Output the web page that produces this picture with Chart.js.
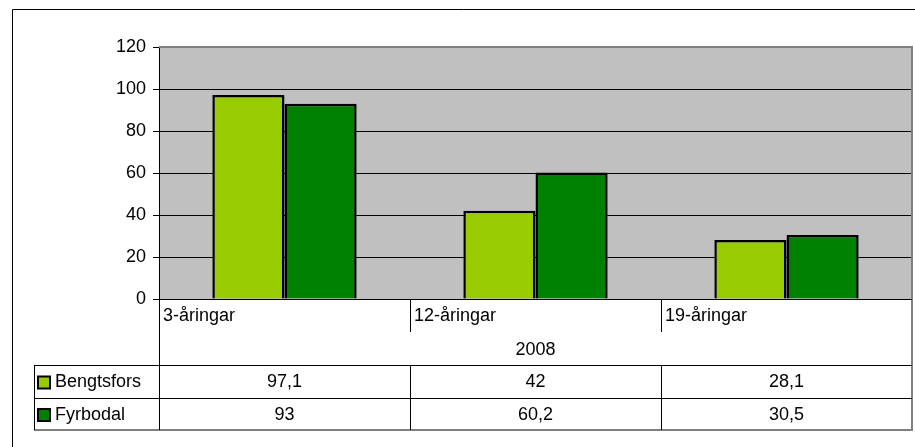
<!DOCTYPE html>
<html>
<head>
<meta charset="utf-8">
<script src="https://cdn.jsdelivr.net/npm/chart.js@4/dist/chart.umd.min.js"></script>
<style>
  html, body { margin: 0; padding: 0; background: #fff; }
  #wrap { width: 915px; height: 447px; position: relative; }
</style>
</head>
<body>
<div id="wrap"><canvas id="c" width="915" height="447"></canvas></div>
<script>
const categories = ['3-åringar', '12-åringar', '19-åringar'];
const groupLabel = '2008';
const seriesNames = ['Bengtsfors', 'Fyrbodal'];
const bengtsfors = [97.1, 42, 28.1];
const fyrbodal = [93, 60.2, 30.5];
const yMin = 0, yMax = 120, yStep = 20;

const colors = ['#99CC00', '#008000'];
const FONT = '"Liberation Sans", Arial, sans-serif';
const FS = 18;

function fmt(v) { return String(v).replace('.', ','); }

const tablePlugin = {
  id: 'tablePlugin',
  beforeDraw(chart) {
    const { ctx, chartArea: a } = chart;
    ctx.save();
    ctx.fillStyle = '#C0C0C0';
    ctx.fillRect(a.left, a.top, a.right - a.left, a.bottom - a.top);
    ctx.restore();
  },
  afterDraw(chart) {
    const { ctx, chartArea: a } = chart;
    const xs = chart.scales.x;
    const n = categories.length;
    const cw = (a.right - a.left) / n;
    const bounds = [];
    for (let i = 0; i < n; i++) {
      const c = xs.getPixelForValue(i);
      bounds.push([c - cw / 2, c + cw / 2]);
    }
    const top = a.bottom;
    const r1 = top + 33, r2 = top + 66, r3 = top + 99, r4 = top + 131;
    const tableLeft = 34;
    ctx.save();
    ctx.strokeStyle = '#808080';
    ctx.lineWidth = 2;
    ctx.beginPath();
    ctx.moveTo(a.left, a.top);
    ctx.lineTo(a.right, a.top);
    ctx.lineTo(a.right, r4);
    ctx.lineTo(tableLeft, r4);
    ctx.stroke();

    ctx.strokeStyle = '#000';
    ctx.lineWidth = 1;
    const line = (x1, y1, x2, y2) => {
      ctx.beginPath(); ctx.moveTo(x1, y1); ctx.lineTo(x2, y2); ctx.stroke();
    };
    line(a.left, Math.round(top) + 0.5, a.right, Math.round(top) + 0.5);
    line(Math.round(a.left) + 0.5, top, Math.round(a.left) + 0.5, r4);
    for (let i = 1; i < n; i++) {
      const x = Math.round(bounds[i][0]) + 0.5;
      line(x, top, x, r1);
      line(x, r2, x, r4);
    }
    line(tableLeft, Math.round(r2) + 0.5, a.right, Math.round(r2) + 0.5);
    line(tableLeft, Math.round(r3) + 0.5, a.right, Math.round(r3) + 0.5);
    line(tableLeft + 0.5, r2, tableLeft + 0.5, r4);

    ctx.fillStyle = '#000';
    ctx.font = FS + 'px ' + FONT;
    ctx.textBaseline = 'middle';
    ctx.textAlign = 'left';
    for (let i = 0; i < n; i++) {
      ctx.fillText(categories[i], bounds[i][0] + 4, top + 17);
    }
    ctx.textAlign = 'center';
    ctx.fillText(groupLabel, (a.left + a.right) / 2, r1 + 18);
    const rows = [[r2, r3], [r3, r4]];
    chart.data.datasets.forEach((ds, k) => {
      const yc = (rows[k][0] + rows[k][1]) / 2 + 1;
      ctx.fillStyle = ds.backgroundColor;
      ctx.fillRect(tableLeft + 4, yc - 6, 12, 12);
      ctx.strokeStyle = '#000';
      ctx.lineWidth = 2;
      ctx.strokeRect(tableLeft + 4, yc - 6, 12, 12);
      ctx.fillStyle = '#000';
      ctx.textAlign = 'left';
      ctx.fillText(ds.label, tableLeft + 21, yc);
      ctx.textAlign = 'center';
      ds.data.forEach((v, i) => {
        ctx.fillText(fmt(v), (bounds[i][0] + bounds[i][1]) / 2, yc);
      });
    });

    ctx.strokeStyle = '#000';
    ctx.lineWidth = 1;
    line(12.5, 9.5, 915, 9.5);
    line(12.5, 9.5, 12.5, 447);
    ctx.restore();
  }
};

new Chart(document.getElementById('c'), {
  type: 'bar',
  data: {
    labels: categories,
    datasets: [
      { label: seriesNames[0], data: bengtsfors, backgroundColor: colors[0], borderColor: '#000', borderWidth: 2.5 },
      { label: seriesNames[1], data: fyrbodal, backgroundColor: colors[1], borderColor: '#000', borderWidth: 2.5 }
    ]
  },
  options: {
    responsive: false,
    animation: false,
    devicePixelRatio: 1,
    layout: { padding: { left: 0, right: 3, top: 47, bottom: 148 } },
    datasets: { bar: { categoryPercentage: 0.575, barPercentage: 1 } },
    plugins: { legend: { display: false }, tooltip: { enabled: false } },
    scales: {
      x: { display: false },
      y: {
        min: yMin, max: yMax,
        ticks: { stepSize: yStep, color: '#000', padding: 7, font: { family: FONT, size: FS } },
        grid: { color: '#000', lineWidth: 1, tickLength: 6, tickColor: '#000' },
        border: { color: '#000', width: 1 },
        afterFit(scale) { scale.width = 159; }
      }
    }
  },
  plugins: [tablePlugin]
});
</script>
</body>
</html>
